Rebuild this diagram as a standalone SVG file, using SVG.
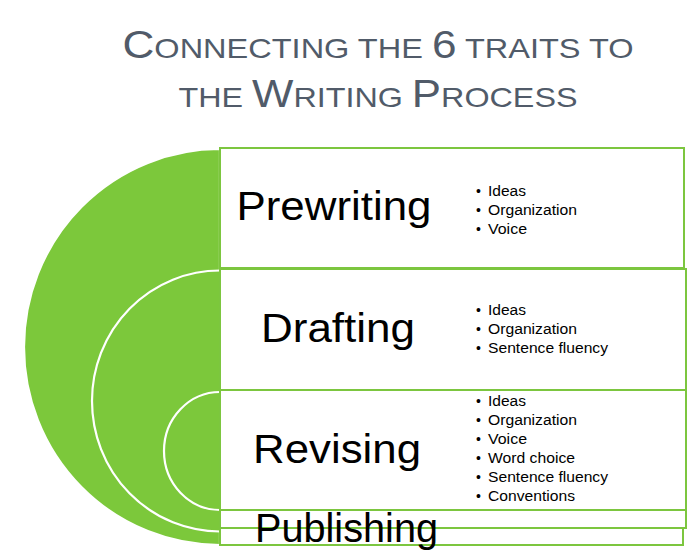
<svg xmlns="http://www.w3.org/2000/svg" width="700" height="560" viewBox="0 0 700 560">
<style>
.title{font-family:"Liberation Sans",Arial,sans-serif;fill:#515B69;}
.big{font-size:38px}
.sm{font-size:28px}
.box{fill:#ffffff;stroke:#7CC63F;stroke-width:2}
.ring{fill:#7CC83B;stroke:#ffffff;stroke-width:2.2}
.label{font-family:"Liberation Sans",Arial,sans-serif;font-size:40px;fill:#000000}
.item{font-family:"Liberation Sans",Arial,sans-serif;font-size:14px;fill:#000000}
</style>
<rect width="700" height="560" fill="#ffffff"/>
<g id="title">
<text class="title" x="378" y="58" text-anchor="middle" textLength="511" lengthAdjust="spacingAndGlyphs"><tspan class="big">C</tspan><tspan class="sm">ONNECTING THE </tspan><tspan class="big">6</tspan><tspan class="sm"> TRAITS TO</tspan></text>
<text class="title" x="378" y="107" text-anchor="middle" textLength="399" lengthAdjust="spacingAndGlyphs"><tspan class="sm">THE </tspan><tspan class="big">W</tspan><tspan class="sm">RITING </tspan><tspan class="big">P</tspan><tspan class="sm">ROCESS</tspan></text>
</g>
<g id="rings">
<path class="ring" stroke="none" d="M220,149 A196,198 0 0 0 220,545 Z"/>
<path class="ring" d="M220,270.5 A128,130.5 0 0 0 220,531.5"/>
<path class="ring" d="M220,392 A56,59 0 0 0 220,510"/>
</g>
<g id="connectors"></g>
<g id="prewriting">
<rect class="box" x="220" y="148" width="464" height="120"/>
<text class="label" x="236.5" y="220" textLength="195" lengthAdjust="spacingAndGlyphs">Prewriting</text>
<text class="item" x="476" y="196">•</text><text class="item" x="488" y="196" textLength="38" lengthAdjust="spacingAndGlyphs">Ideas</text>
<text class="item" x="476" y="215">•</text><text class="item" x="488" y="215" textLength="89" lengthAdjust="spacingAndGlyphs">Organization</text>
<text class="item" x="476" y="234">•</text><text class="item" x="488" y="234" textLength="39" lengthAdjust="spacingAndGlyphs">Voice</text>
</g>
<g id="drafting">
<rect class="box" x="220" y="269" width="466" height="259"/>
<text class="label" x="261" y="342" textLength="154" lengthAdjust="spacingAndGlyphs">Drafting</text>
<text class="item" x="476" y="315">•</text><text class="item" x="488" y="315" textLength="38" lengthAdjust="spacingAndGlyphs">Ideas</text>
<text class="item" x="476" y="334">•</text><text class="item" x="488" y="334" textLength="89" lengthAdjust="spacingAndGlyphs">Organization</text>
<text class="item" x="476" y="353">•</text><text class="item" x="488" y="353" textLength="120" lengthAdjust="spacingAndGlyphs">Sentence fluency</text>
</g>
<g id="revising">
<rect class="box" x="220" y="390" width="466" height="120"/>
<text class="label" x="253" y="463" textLength="168" lengthAdjust="spacingAndGlyphs">Revising</text>
<text class="item" x="476" y="406">•</text><text class="item" x="488" y="406" textLength="38" lengthAdjust="spacingAndGlyphs">Ideas</text>
<text class="item" x="476" y="425">•</text><text class="item" x="488" y="425" textLength="89" lengthAdjust="spacingAndGlyphs">Organization</text>
<text class="item" x="476" y="444">•</text><text class="item" x="488" y="444" textLength="39" lengthAdjust="spacingAndGlyphs">Voice</text>
<text class="item" x="476" y="463">•</text><text class="item" x="488" y="463" textLength="87" lengthAdjust="spacingAndGlyphs">Word choice</text>
<text class="item" x="476" y="482">•</text><text class="item" x="488" y="482" textLength="120" lengthAdjust="spacingAndGlyphs">Sentence fluency</text>
<text class="item" x="476" y="501">•</text><text class="item" x="488" y="501" textLength="87" lengthAdjust="spacingAndGlyphs">Conventions</text>
</g>
<g id="publishing">
<rect class="box" x="220" y="528" width="463" height="17"/>
<line x1="220" y1="528" x2="686" y2="528" stroke="#7CC63F" stroke-width="2"/>
<text class="label" x="255" y="542" textLength="183" lengthAdjust="spacingAndGlyphs">Publishing</text>
</g>
</svg>
